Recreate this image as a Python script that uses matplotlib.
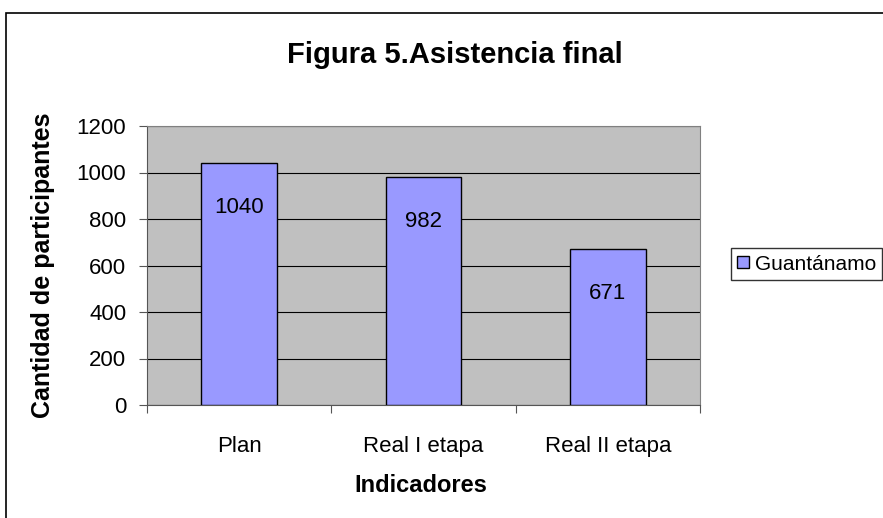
import numpy as np
import matplotlib.pyplot as plt
from matplotlib.patches import Rectangle

plt.rcParams['font.family'] = ['Liberation Sans', 'DejaVu Sans']

categorias = ["Plan", "Real I etapa", "Real II etapa"]
valores = [1040, 982, 671]
serie = "Guantánamo"

fig = plt.figure(figsize=(8.83, 5.18), dpi=100)
# borde del grafico
fig.patches.append(Rectangle((6/883, -0.1), 1.0, 1 - 13/518 + 0.1, transform=fig.transFigure,
                             fill=False, edgecolor="black", linewidth=1.2))

ax = fig.add_axes([147/883, 1 - 405/518, (700 - 147)/883, (405 - 126)/518])
ax.set_facecolor("#C0C0C0")
x = np.arange(len(categorias))
bars = ax.bar(x, valores, width=0.41, color="#9999FF", edgecolor="black", linewidth=1,
              label=serie, zorder=3)
ax.set_ylim(0, 1200)
ax.set_xlim(-0.5, len(categorias) - 0.5)
ax.set_yticks(np.arange(0, 1201, 200))
ax.yaxis.grid(True, color="black", linewidth=0.8, zorder=0)
ax.set_axisbelow(True)
ax.set_xticks(np.arange(-0.5, len(categorias), 1.0))
ax.set_xticklabels([])
ax.set_xticks(x, minor=True)
ax.set_xticklabels(categorias, minor=True, fontsize=16)
ax.tick_params(axis="x", which="minor", length=0, pad=22)
ax.tick_params(axis="x", which="major", length=6, direction="out", color="#555555")
ax.tick_params(axis="y", length=6, direction="out", labelsize=16, color="#555555", pad=9)
for s in ["top", "right"]:
    ax.spines[s].set_color("#808080")
ax.spines["left"].set_color("#555555")
ax.spines["bottom"].set_color("#555555")

for b, v in zip(bars, valores):
    ax.annotate(str(v), (b.get_x() + b.get_width()/2, v), xytext=(0, -32),
                textcoords="offset points", ha="center", va="center", fontsize=16, zorder=4)

ax.set_ylabel("Cantidad de participantes", fontsize=18, fontweight="bold")
ax.yaxis.set_label_coords((55 - 147)/553, 0.5)
ax.set_xlabel("Indicadores", fontsize=17, fontweight="bold")
ax.xaxis.set_label_coords((421 - 147)/553, (405 - 474)/279)
fig.text(455/883, 1 - 55/518, "Figura 5.Asistencia final", ha="center", va="center",
         fontsize=21, fontweight="bold")

leg = fig.legend(loc="center left", bbox_to_anchor=(731/883, 1 - 264/518), fontsize=15,
                 frameon=True, fancybox=False, edgecolor="black", handlelength=0.55,
                 handleheight=0.55, handletextpad=0.3, borderpad=0.3, borderaxespad=0)
leg.get_frame().set_linewidth(1)

fig.savefig("out.png", dpi=100)
